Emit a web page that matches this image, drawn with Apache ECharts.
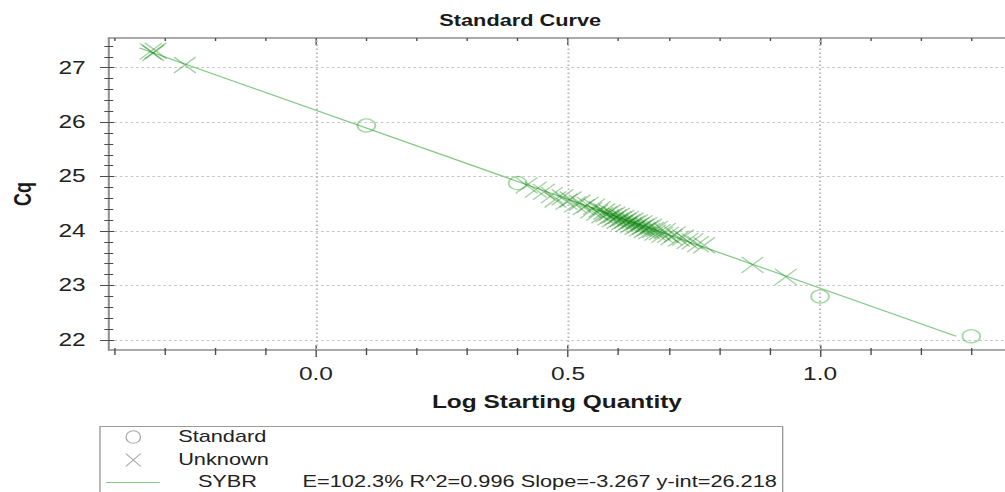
<!DOCTYPE html>
<html>
<head>
<meta charset="utf-8">
<title>Standard Curve</title>
<script src="https://cdn.jsdelivr.net/npm/echarts@6/dist/echarts.min.js"></script>
<style>
  html, body { margin: 0; padding: 0; background: #fff; overflow: hidden; }
  /* the plot is laid out narrow and widened horizontally */
  #chart { width: 739px; height: 492px; transform: scaleX(1.36); transform-origin: 0 0; }
</style>
</head>
<body>
<div id="chart"></div>
<script>
// Log starting quantity / Cq of the dilution standards
const standardPoints = [
  [0.1, 25.94],
  [0.4, 24.88],
  [1.0, 22.80],
  [1.3, 22.07]
];

// Log starting quantity / Cq of the unknown samples
const unknownPoints = [
  [-0.328, 27.30], [-0.323, 27.27], [-0.318, 27.31], [-0.260, 27.05],
  [0.418, 24.84], [0.436, 24.76], [0.452, 24.72], [0.468, 24.66], [0.475, 24.58],
  [0.489, 24.62], [0.497, 24.54], [0.505, 24.58], [0.514, 24.49], [0.523, 24.52],
  [0.531, 24.44], [0.539, 24.48], [0.546, 24.38], [0.552, 24.45], [0.558, 24.34],
  [0.563, 24.40], [0.568, 24.29], [0.572, 24.36], [0.576, 24.31], [0.580, 24.25],
  [0.583, 24.34], [0.586, 24.28], [0.589, 24.22], [0.592, 24.30], [0.595, 24.25],
  [0.598, 24.19], [0.601, 24.28], [0.604, 24.22], [0.607, 24.16], [0.610, 24.24],
  [0.613, 24.19], [0.616, 24.13], [0.619, 24.22], [0.622, 24.17], [0.625, 24.11],
  [0.628, 24.19], [0.631, 24.14], [0.634, 24.08], [0.637, 24.16], [0.640, 24.11],
  [0.643, 24.05], [0.646, 24.14], [0.649, 24.08], [0.652, 24.02], [0.655, 24.11],
  [0.658, 24.05], [0.661, 24.00], [0.665, 24.08], [0.669, 24.02], [0.673, 23.97],
  [0.677, 24.04], [0.682, 23.98], [0.687, 23.93], [0.692, 24.00], [0.698, 23.93],
  [0.705, 23.89], [0.712, 23.94], [0.720, 23.86], [0.728, 23.88], [0.737, 23.82],
  [0.747, 23.81], [0.758, 23.76], [0.770, 23.74], [0.866, 23.38], [0.932, 23.16]
];

// Fit reported for the SYBR run
const fitSlope = -3.267;
const fitIntercept = 26.218;
const fitEfficiency = '102.3%';
const fitR2 = '0.996';
const fitSpanX = [-0.35, 1.27];

// Axis extents and tick positions
const xRange = [-0.411, 1.367];
const yRange = [21.816, 27.545];
const xMajorTicks = [0, 0.5, 1.0];
const xMinorTicks = [-0.4, -0.3, -0.2, -0.1, 0.1, 0.2, 0.3, 0.4, 0.6, 0.7, 0.8, 0.9, 1.1, 1.2, 1.3];
const yMajorTicks = [22, 23, 24, 25, 26, 27];
const yMinorTicks = [22.2, 22.4, 22.6, 22.8, 23.2, 23.4, 23.6, 23.8, 24.2, 24.4, 24.6, 24.8,
                     25.2, 25.4, 25.6, 25.8, 26.2, 26.4, 26.6, 26.8, 27.2, 27.4];

const FONT = '"Liberation Sans", Arial, Helvetica, sans-serif';
const AXIS_GREY = '#8e8e8e';
const TICK_GREY = '#4a4a4a';
const GRID_GREY = '#c6c6c6';
const GREEN_MARK = 'rgba(0, 128, 0, 0.45)';
const GREEN_LINE = '#86c986';
const LEGEND_GREY = '#a8a8a8';

const fitLine = fitSpanX.map(x => [x, fitIntercept + fitSlope * x]);

// Overlay axis that only contributes a set of ticks
function tickAxis(kind, position, values, inside, length, withLine) {
  const range = kind === 'x' ? xRange : yRange;
  return {
    type: 'value', gridIndex: 0, position: position,
    min: range[0], max: range[1],
    axisLine: { show: !!withLine, onZero: false, lineStyle: { color: AXIS_GREY, width: 1.5 } },
    axisTick: {
      show: true, inside: inside, length: length, customValues: values,
      lineStyle: { color: TICK_GREY, width: 1 }
    },
    axisLabel: { show: false },
    splitLine: { show: false },
    silent: true
  };
}

const chart = echarts.init(document.getElementById('chart'), null, { renderer: 'svg' });

chart.setOption({
  animation: false,
  backgroundColor: '#ffffff',
  title: {
    text: 'Standard Curve',
    left: 318, top: 8,
    textStyle: { fontFamily: FONT, fontSize: 16, fontWeight: 'bold', color: '#1a1a1a' }
  },
  grid: { left: 75.7, right: 0, top: 38, bottom: 142 },
  xAxis: [
    {
      type: 'value', gridIndex: 0, position: 'bottom',
      min: xRange[0], max: xRange[1],
      name: 'Log Starting Quantity',
      nameLocation: 'middle', nameGap: 43,
      nameTextStyle: { fontFamily: FONT, fontSize: 18, fontWeight: 'bold', color: '#1a1a1a' },
      axisLine: { show: true, onZero: false, lineStyle: { color: AXIS_GREY, width: 1.5 } },
      axisTick: {
        show: true, inside: false, length: 7, customValues: xMajorTicks,
        lineStyle: { color: TICK_GREY, width: 1 }
      },
      axisLabel: {
        customValues: xMajorTicks, margin: 15,
        formatter: v => Number(v).toFixed(1),
        fontFamily: FONT, fontSize: 18, color: '#222'
      },
      splitLine: { show: false }
    },
    tickAxis('x', 'bottom', xMajorTicks, true, 5),
    tickAxis('x', 'bottom', xMinorTicks, false, 5),
    tickAxis('x', 'bottom', xMinorTicks, true, 2),
    tickAxis('x', 'top', xMajorTicks, true, 7, true),
    tickAxis('x', 'top', xMinorTicks, true, 3)
  ],
  yAxis: [
    {
      type: 'value', gridIndex: 0, position: 'left',
      min: yRange[0], max: yRange[1],
      name: 'Cq',
      nameLocation: 'middle', nameGap: 54, nameRotate: 90,
      nameTextStyle: { fontFamily: FONT, fontSize: 18, fontWeight: 'bold', color: '#1a1a1a' },
      axisLine: { show: true, onZero: false, lineStyle: { color: AXIS_GREY, width: 1.5 } },
      axisTick: {
        show: true, inside: false, length: 6.5, customValues: yMajorTicks,
        lineStyle: { color: TICK_GREY, width: 1 }
      },
      axisLabel: {
        customValues: yMajorTicks, margin: 17,
        fontFamily: FONT, fontSize: 18, color: '#222'
      },
      splitLine: {
        show: true, showMinLine: true, showMaxLine: true,
        lineStyle: { color: GRID_GREY, width: 1, type: [2, 2] }
      }
    },
    tickAxis('y', 'left', yMajorTicks, true, 4),
    tickAxis('y', 'left', yMinorTicks, false, 3.3),
    tickAxis('y', 'left', yMinorTicks, true, 3.3)
  ],
  series: [
    {
      name: 'SYBR',
      type: 'line',
      xAxisIndex: 0, yAxisIndex: 0,
      data: fitLine,
      showSymbol: false,
      lineStyle: { color: GREEN_LINE, width: 1.2 },
      silent: true,
      z: 2,
      // vertical dotted grid at the labelled quantities
      markLine: {
        silent: true,
        symbol: ['none', 'none'],
        label: { show: false },
        lineStyle: { color: '#b9b9b9', width: 1.5, type: [1.5, 2.5] },
        data: xMajorTicks.map(v => ({ xAxis: v }))
      }
    },
    {
      name: 'Standard',
      type: 'scatter',
      xAxisIndex: 0, yAxisIndex: 0,
      data: standardPoints,
      symbol: 'circle',
      symbolSize: 13,
      itemStyle: { color: 'rgba(255,255,255,0)', borderColor: 'rgba(0, 150, 0, 0.45)', borderWidth: 1.4 },
      z: 3
    },
    {
      name: 'Unknown',
      type: 'scatter',
      xAxisIndex: 0, yAxisIndex: 0,
      data: unknownPoints,
      symbol: 'path://M0,0L10,10M10,0L0,10',
      symbolSize: 16,
      itemStyle: { color: 'none', borderColor: GREEN_MARK, borderWidth: 1.2 },
      z: 4
    }
  ],
  graphic: [
    // legend frame
    {
      type: 'rect', z: 10,
      shape: { x: 73.5, y: 426.5, width: 502, height: 80 },
      style: { fill: '#ffffff', stroke: '#9a9a9a', lineWidth: 1 }
    },
    {
      type: 'ellipse', z: 11,
      shape: { cx: 98, cy: 437, rx: 5.3, ry: 6.3 },
      style: { fill: 'none', stroke: LEGEND_GREY, lineWidth: 1 }
    },
    {
      type: 'text', z: 11,
      style: { x: 131, y: 437, text: 'Standard', fill: '#222', fontFamily: FONT, fontSize: 16, verticalAlign: 'middle' }
    },
    {
      type: 'line', z: 11,
      shape: { x1: 92.5, y1: 453.5, x2: 103.5, y2: 466.5 },
      style: { stroke: LEGEND_GREY, lineWidth: 1 }
    },
    {
      type: 'line', z: 11,
      shape: { x1: 103.5, y1: 453.5, x2: 92.5, y2: 466.5 },
      style: { stroke: LEGEND_GREY, lineWidth: 1 }
    },
    {
      type: 'text', z: 11,
      style: { x: 131, y: 460, text: 'Unknown', fill: '#222', fontFamily: FONT, fontSize: 16, verticalAlign: 'middle' }
    },
    {
      type: 'line', z: 11,
      shape: { x1: 78, y1: 482.5, x2: 117.5, y2: 482.5 },
      style: { stroke: GREEN_LINE, lineWidth: 1.2 }
    },
    {
      type: 'text', z: 11,
      style: { x: 145.5, y: 482, text: 'SYBR', fill: '#222', fontFamily: FONT, fontSize: 16, verticalAlign: 'middle' }
    },
    {
      type: 'text', z: 11,
      style: {
        x: 222.5, y: 482,
        text: 'E=' + fitEfficiency + ' R^2=' + fitR2 + ' Slope=' + fitSlope.toFixed(3) + ' y-int=' + fitIntercept.toFixed(3),
        fill: '#222', fontFamily: FONT, fontSize: 16, verticalAlign: 'middle'
      }
    }
  ]
});
</script>
</body>
</html>
